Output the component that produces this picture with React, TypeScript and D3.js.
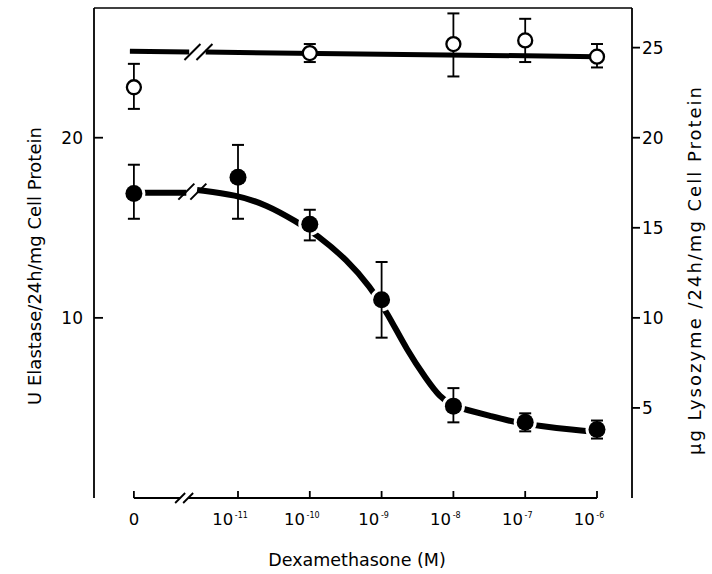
import React from "react";
import * as d3 from "d3";

// ---- data ----
const doseLog: (number | null)[] = [null, -11, -10, -9, -8, -7, -6];
const tickBase = ["0", "10", "10", "10", "10", "10", "10"];
const tickExp = ["", "-11", "-10", "-9", "-8", "-7", "-6"];

// Elastase (filled circles, left axis)
const elastaseMean = [16.9, 17.8, 15.2, 11.0, 5.1, 4.2, 3.8];
const elastaseLo = [15.5, 15.5, 14.3, 8.9, 4.2, 3.7, 3.3];
const elastaseHi = [18.5, 19.6, 16.0, 13.1, 6.1, 4.7, 4.3];

// Lysozyme (open circles, right axis)
const lysoDoseLog: (number | null)[] = [null, -10, -8, -7, -6];
const lysoMean = [22.8, 24.7, 25.2, 25.4, 24.5];
const lysoLo = [21.6, 24.2, 23.4, 24.2, 23.9];
const lysoHi = [24.1, 25.2, 26.9, 26.6, 25.2];

// fitted curves, points
const elastaseZeroLevel = 16.95;
const elastaseCurveLog = [-11.57, -11.03, -10.6, -10.18, -9.9, -9.48, -9.16, -8.92, -8.65, -8.37, -8.19, -8.01, -7.81, -7.49, -7.17, -6.79, -6.33, -6.03];
const elastaseCurveVal = [17.1, 16.83, 16.28, 15.33, 14.61, 13.22, 11.72, 10.28, 8.22, 6.56, 5.61, 5.11, 4.89, 4.56, 4.22, 4.0, 3.78, 3.67];
const lysoFitStart = 24.8;
const lysoFitEnd = 24.5;

const leftTicks = [10, 20];
const rightTicks = [5, 10, 15, 20, 25];

// ---- layout ----
const W = 712;
const H = 574;
const LEFT = 94;
const RIGHT = 632;
const TOP = 8;
const BOTTOM = 498;
const ZERO_POS_LOG = -12.45; // where "0" dose sits on the broken axis
const FONT = "'DejaVu Sans', sans-serif";

export default function App() {
  const x = d3.scaleLinear().domain([-11, -6]).range([238, 597]);
  const y = d3.scaleLinear().domain([0, 27.2]).range([BOTTOM, TOP]);
  const px = (d: number | null) => x(d === null ? ZERO_POS_LOG : d);

  const curveLine = d3
    .line<number>()
    .x((_, i) => x(elastaseCurveLog[i]))
    .y((v) => y(v))
    .curve(d3.curveBasis);

  const x0 = px(null);
  const elBreakL = x(-11.72);
  const lyBreakL = x(-11.68);
  const lyBreakR = x(-11.45);
  const lysoEndX = x(-6);
  const lysoStartX = x0 - 4;
  const lyY = (xx: number) =>
    y(lysoFitStart + ((lysoFitEnd - lysoFitStart) * (xx - lysoStartX)) / (lysoEndX - lysoStartX));

  const axisBreakX = x(-11.75);

  const slash = (cx: number, cy: number, key: string, dx = 8, dy = 8, sw = 2, gap = 5) => (
    <g key={key}>
      <line x1={cx - dx - gap} y1={cy + dy} x2={cx + dx - gap} y2={cy - dy} stroke="#000" strokeWidth={sw} />
      <line x1={cx - dx + gap} y1={cy + dy} x2={cx + dx + gap} y2={cy - dy} stroke="#000" strokeWidth={sw} />
    </g>
  );

  const cap = 6;

  return (
    <svg width={W} height={H} style={{ position: "absolute", left: 0, top: 0, background: "#fff" }} fontFamily={FONT}>
      <rect x={0} y={0} width={W} height={H} fill="#fff" />
      {/* frame */}
      <line x1={LEFT} y1={TOP} x2={RIGHT} y2={TOP} stroke="#000" strokeWidth={1.5} />
      <line x1={LEFT} y1={TOP} x2={LEFT} y2={BOTTOM} stroke="#000" strokeWidth={1.8} />
      <line x1={RIGHT} y1={TOP} x2={RIGHT} y2={BOTTOM} stroke="#000" strokeWidth={1.8} />

      {/* left ticks */}
      {leftTicks.map((t) => (
        <g key={"l" + t}>
          <line x1={LEFT} x2={LEFT + 9} y1={y(t)} y2={y(t)} stroke="#000" strokeWidth={1.8} />
          <text x={LEFT - 11} y={y(t)} dy="0.36em" textAnchor="end" fontSize={17}>
            {t}
          </text>
        </g>
      ))}
      {/* right ticks */}
      {rightTicks.map((t) => (
        <g key={"r" + t}>
          <line x1={RIGHT} x2={RIGHT + 8} y1={y(t)} y2={y(t)} stroke="#000" strokeWidth={1.8} />
          <text x={RIGHT + 10} y={y(t)} dy="0.36em" textAnchor="start" fontSize={17}>
            {t}
          </text>
        </g>
      ))}

      {/* x axis */}
      <line x1={x0} x2={x(-6)} y1={BOTTOM} y2={BOTTOM} stroke="#000" strokeWidth={1.8} />
      {doseLog.map((d, i) => (
        <g key={"x" + i}>
          <line x1={px(d)} x2={px(d)} y1={BOTTOM} y2={BOTTOM - 7} stroke="#000" strokeWidth={1.8} />
          <text x={px(d) + (d === null ? 0 : -8)} y={525} textAnchor="middle" fontSize={16.5}>
            {tickBase[i]}
            {tickExp[i] && (
              <tspan fontSize={8} dy={-7}>
                {"\u2009" + tickExp[i]}
              </tspan>
            )}
          </text>
        </g>
      ))}
      <rect x={axisBreakX - 4} y={BOTTOM - 3} width={8} height={6} fill="#fff" />
      {slash(axisBreakX, BOTTOM, "axbrk", 5, 5, 1.8, 4)}

      {/* lysozyme fit line */}
      <line x1={lysoStartX} y1={lyY(lysoStartX)} x2={lyBreakL} y2={lyY(lyBreakL)} stroke="#000" strokeWidth={5} />
      <line x1={lyBreakR} y1={lyY(lyBreakR)} x2={lysoEndX} y2={lyY(lysoEndX)} stroke="#000" strokeWidth={5} />
      {slash((lyBreakL + lyBreakR) / 2 + 1, lyY(lyBreakL), "lybrk", 8, 8, 2, 6)}

      {/* elastase fit curve */}
      <line x1={x0 + 8} y1={y(elastaseZeroLevel)} x2={elBreakL} y2={y(elastaseZeroLevel)} stroke="#000" strokeWidth={6} />
      <path d={curveLine(elastaseCurveVal) || ""} fill="none" stroke="#000" strokeWidth={6} />
      {slash(x(-11.65) + 1, y(elastaseZeroLevel) - 1, "elbrk", 8, 8, 2, 6)}

      {/* white halos around filled markers */}
      {elastaseMean.map((v, i) => (
        <circle key={"h" + i} cx={px(doseLog[i])} cy={y(v)} r={11.5} fill="#fff" />
      ))}

      {/* elastase error bars + markers */}
      {elastaseMean.map((v, i) => {
        const cx = px(doseLog[i]);
        return (
          <g key={"e" + i}>
            <line x1={cx} x2={cx} y1={y(elastaseLo[i])} y2={y(elastaseHi[i])} stroke="#000" strokeWidth={1.8} />
            <line x1={cx - cap} x2={cx + cap} y1={y(elastaseLo[i])} y2={y(elastaseLo[i])} stroke="#000" strokeWidth={2} />
            <line x1={cx - cap} x2={cx + cap} y1={y(elastaseHi[i])} y2={y(elastaseHi[i])} stroke="#000" strokeWidth={2} />
            <circle cx={cx} cy={y(v)} r={8.5} fill="#000" />
          </g>
        );
      })}

      {/* lysozyme error bars + markers */}
      {lysoMean.map((v, i) => {
        const cx = px(lysoDoseLog[i]);
        return (
          <g key={"o" + i}>
            <line x1={cx} x2={cx} y1={y(lysoLo[i])} y2={y(lysoHi[i])} stroke="#000" strokeWidth={1.8} />
            <line x1={cx - cap} x2={cx + cap} y1={y(lysoLo[i])} y2={y(lysoLo[i])} stroke="#000" strokeWidth={2} />
            <line x1={cx - cap} x2={cx + cap} y1={y(lysoHi[i])} y2={y(lysoHi[i])} stroke="#000" strokeWidth={2} />
            <circle cx={cx} cy={y(v)} r={7} fill="#fff" stroke="#000" strokeWidth={2.3} />
          </g>
        );
      })}

      {/* axis titles */}
      <text x={357} y={566} textAnchor="middle" fontSize={17.5}>
        Dexamethasone (M)
      </text>
      <text transform={`translate(41,266) rotate(-90)`} textAnchor="middle" fontSize={18}>
        U Elastase/24h/mg Cell Protein
      </text>
      <text transform={`translate(701,270) rotate(-90)`} textAnchor="middle" fontSize={18} letterSpacing={2}>
        µg Lysozyme /24h/mg Cell Protein
      </text>
    </svg>
  );
}
